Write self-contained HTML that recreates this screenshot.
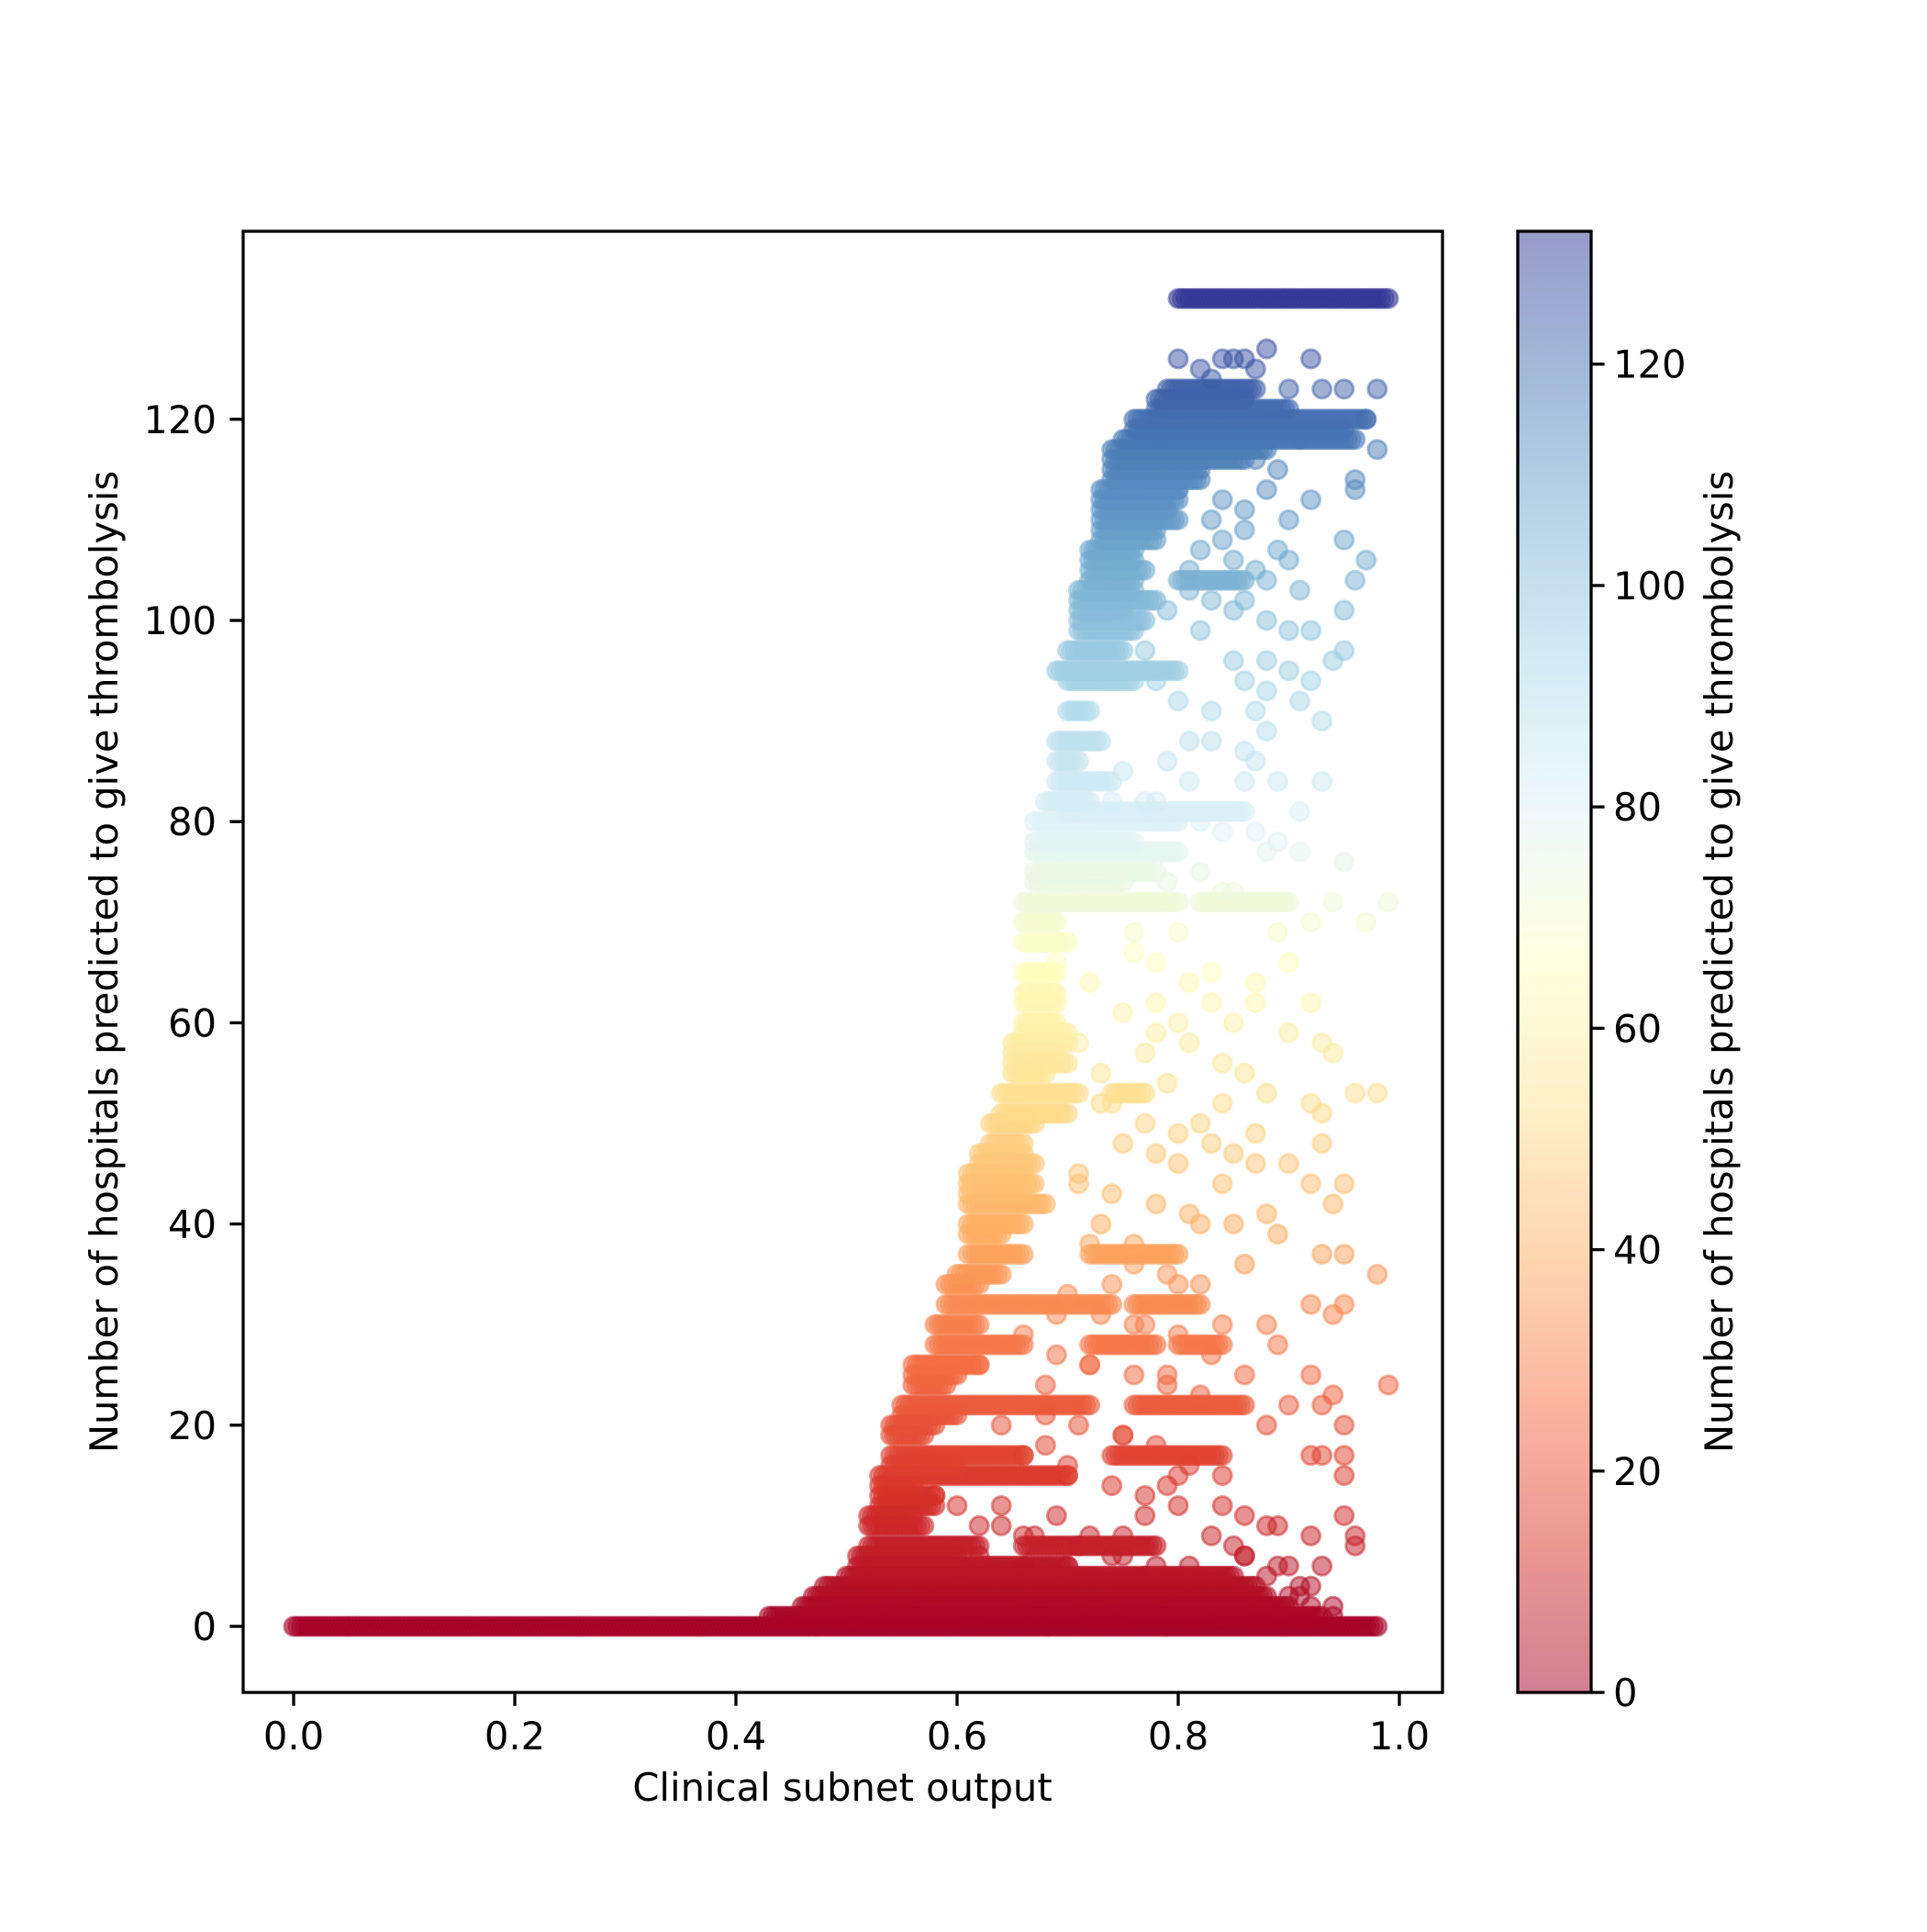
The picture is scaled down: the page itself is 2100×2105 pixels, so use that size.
<!DOCTYPE html>
<html><head><meta charset="utf-8"><style>
html,body{margin:0;padding:0;background:#fff;}
svg text{font-family:"DejaVu Sans","Liberation Sans",sans-serif;fill:#000;}
</style></head><body>
<svg id="chart" width="2100" height="2100" viewBox="0 0 2100 2100" xmlns="http://www.w3.org/2000/svg">
<rect width="2100" height="2100" fill="#fff"/>
<defs><linearGradient id="cbgrad" x1="0" y1="1" x2="0" y2="0"></linearGradient>
<clipPath id="plotclip"><rect x="265" y="252" width="1307" height="1592"/></clipPath></defs>
<g id="points" clip-path="url(#plotclip)"></g>
<rect x="265" y="252" width="1307" height="1592" fill="none" stroke="#000" stroke-width="3.3"/>
<g id="xticks"></g>
<g id="yticks"></g>
<text x="918" y="1962" font-size="41.7" text-anchor="middle">Clinical subnet output</text>
<text transform="translate(128,1048) rotate(-90)" font-size="41.7" text-anchor="middle">Number of hospitals predicted to give thrombolysis</text>
<rect x="1654" y="252" width="80" height="1592" fill="url(#cbgrad)"/>
<rect x="1654" y="252" width="80" height="1592" fill="none" stroke="#000" stroke-width="3.3"/>
<g id="cbticks"></g>
<text transform="translate(1888,1048) rotate(-90)" font-size="41.7" text-anchor="middle">Number of hospitals predicted to give thrombolysis</text>
</svg>
<script>
const xTicks=[0,0.2,0.4,0.6,0.8,1.0];
const xTickLabels=["0.0","0.2","0.4","0.6","0.8","1.0"];
const yTicks=[0,20,40,60,80,100,120];
const cbTicks=[0,20,40,60,80,100,120];
// dense bands: [y, xStart, xEnd]
const bandY=[132,0,1,2,3,4,5,6,8,8,12,14,16,17,17,20,22,22,25,28,28,28,32,32,35,37,37,40,42,44,46,48,51,53,53,56,58,60,62,65,68,72,72,75,77,80,81,84,88,91,94,95,99,100,102,104,104,106,108,110,112,114,116,118,120,123,
7,10,11,13,15,19,21,24,26,30,34,39,43,45,47,50,55,57,59,63,70,74,78,82,86,97,101,103,105,107,109,111,113,115,117,119,121,122];
const bandX0=[0.80,0,0.43,0.46,0.47,0.48,0.50,0.51,0.52,0.66,0.53,0.53,0.54,0.54,0.74,0.54,0.55,0.76,0.56,0.58,0.72,0.80,0.59,0.76,0.60,0.61,0.72,0.61,0.61,0.61,0.62,0.63,0.64,0.64,0.74,0.65,0.65,0.66,0.66,0.66,0.66,0.66,0.82,0.67,0.67,0.67,0.70,0.69,0.69,0.70,0.70,0.69,0.71,0.71,0.71,0.72,0.80,0.72,0.73,0.73,0.73,0.74,0.74,0.75,0.76,0.79,
0.51,0.52,0.52,0.53,0.53,0.54,0.55,0.56,0.56,0.58,0.59,0.61,0.61,0.61,0.62,0.63,0.65,0.65,0.66,0.66,0.66,0.67,0.67,0.68,0.69,0.70,0.71,0.71,0.72,0.72,0.73,0.73,0.73,0.74,0.74,0.76,0.78,0.78];
const bandX1=[0.99,0.98,0.93,0.90,0.88,0.87,0.85,0.70,0.62,0.78,0.58,0.56,0.60,0.66,0.84,0.58,0.72,0.86,0.60,0.66,0.78,0.84,0.74,0.82,0.64,0.66,0.80,0.66,0.68,0.67,0.67,0.66,0.70,0.71,0.77,0.70,0.70,0.69,0.69,0.69,0.70,0.80,0.90,0.78,0.80,0.80,0.86,0.74,0.73,0.72,0.76,0.80,0.76,0.77,0.78,0.76,0.86,0.76,0.78,0.80,0.80,0.82,0.86,0.96,0.97,0.87,
0.60,0.57,0.56,0.58,0.70,0.57,0.60,0.59,0.62,0.62,0.62,0.64,0.66,0.66,0.66,0.67,0.68,0.69,0.70,0.69,0.69,0.75,0.76,0.72,0.71,0.75,0.75,0.76,0.77,0.76,0.78,0.79,0.80,0.82,0.88,0.95,0.90,0.86];
// scattered points
const ptX=[0.80,0.82,0.84,0.85,0.86,0.88,0.87,0.92,0.83,0.90,0.93,0.95,0.98,0.97,0.98,0.96,0.96,0.92,0.95,0.96,0.97,0.95,0.92,0.94,0.95,0.92,0.86,0.88,0.90,0.84,0.86,0.82,0.85,0.88,0.90,0.83,0.87,0.88,0.80,0.78,0.81,0.89,0.93,0.86,0.91,0.87,0.84,0.95,0.94,0.99,0.97,0.92,0.89,0.80,0.76,0.84,0.88,0.81,0.83,0.87,0.92,0.78,0.80,0.85,0.90,0.93,0.94,0.96,0.98,0.92,0.88,0.84,0.93,0.87,0.82,0.78,0.80,0.93,0.90,0.87,0.84,0.92,0.95,0.94,0.88,0.85,0.82,0.89,0.76,0.93,0.95,0.98,0.86,0.80,0.74,0.92,0.95,0.94,0.88,0.84,0.76,0.89,0.83,0.92,0.86,0.79,0.72,0.99,0.94,0.90,0.93,0.88,0.95,0.93,0.95,0.92,0.84,0.80,0.70,0.68,0.75,0.95,0.84,0.86,0.89,0.95,0.96,0.96,0.92,0.77,0.69,0.64,0.62,0.83,0.85,0.90,0.92,0.94,0.91,0.72,0.75,0.66,0.79,0.88,0.86,0.60,0.58,0.64,0.68,0.62,0.66,0.69,0.73,0.71,0.75,0.73,0.77,0.71,0.74,0.79,0.69,0.72,0.75,0.74,0.78,0.77,0.79,0.81,0.83,0.80,0.82,
0.85,0.87,0.89,0.91,0.84,0.86,0.88,0.90,0.82,0.85,0.87,0.89,0.91,0.81,0.83,0.85,0.88,0.90,0.86,0.88,0.91,0.93,0.83,0.86,0.79,0.81,0.77,0.82,0.87,0.89,0.91,0.79,0.82,0.85,0.76,0.78,0.83,0.87,0.90,0.75,0.78,0.81,0.84,0.86,0.73,0.77,0.80,0.83,0.85,0.71,0.74,0.78,0.81,0.72,0.76,0.79,0.82,0.70,0.73,0.77,0.80,0.69,0.72,0.76,0.79,0.82,0.68,0.71,0.75,0.78,0.81,0.66,0.70,0.74,0.77,0.80,0.64,0.67,0.71,0.75,0.78,0.62,0.66,0.70,0.74,0.77,0.81,0.88,0.91,0.93,0.90,0.92,0.94,0.86,0.89];
const ptY=[126,125,126,126,126,127,125,126,124,123,123,123,123,120,117,114,113,112,108,104,106,101,99,96,97,94,102,104,106,108,109,99,96,96,95,91,91,89,92,94,88,84,84,84,81,86,79,76,72,72,70,70,69,69,69,73,77,64,62,62,62,62,60,60,59,58,57,53,53,52,53,52,51,49,50,47,46,48,46,46,44,44,44,42,41,40,40,39,38,37,37,35,36,34,34,32,32,31,30,30,30,28,27,25,25,25,26,24,23,22,22,20,20,17,17,17,15,15,15,18,19,15,12,11,10,11,9,8,9,11,11,12,10,9,8,6,4,1,3,9,9,9,14,10,7,12,13,20,24,26,29,31,40,44,48,55,57,58,52,54,66,64,85,82,82,97,101,105,110,113,117,
118,116,115,118,112,111,113,110,107,106,105,107,103,103,102,101,100,99,94,93,92,90,88,87,86,84,82,80,79,78,77,74,75,73,67,66,65,64,66,61,59,58,56,55,52,50,49,48,47,45,43,42,41,38,36,35,34,33,31,30,29,27,26,25,24,23,21,20,19,18,16,17,16,14,13,12,10,9,8,7,6,7,6,6,7,5,6,5,4,6,3,2,2,7,6];

const X0=320, XS=1205, Y0=1772, YS=10.96, CB_TOP=252, CB_BOT=1844, VMAX=132;
const sx=v=>X0+v*XS, sy=v=>Y0-v*YS;
const cmap=["#a50026","#d73027","#f46d43","#fdae61","#fee090","#ffffbf","#e0f3f8","#abd9e9","#74add1","#4575b4","#313695"];
function hex(h){return [1,3,5].map(i=>parseInt(h.substr(i,2),16));}
function color(v){let t=Math.max(0,Math.min(1,v/VMAX))*(cmap.length-1);let i=Math.min(Math.floor(t),cmap.length-2),f=t-i;let a=hex(cmap[i]),b=hex(cmap[i+1]);return `rgb(${a.map((c,k)=>Math.round(c+(b[k]-c)*f)).join(",")})`;}
const NS="http://www.w3.org/2000/svg";
const G=document.getElementById("points");
function dot(x,y){const c=document.createElementNS(NS,"circle");


c.setAttribute("cx",sx(x).toFixed(1));c.setAttribute("cy",sy(y).toFixed(1));c.setAttribute("r","10");
const col=color(y);c.setAttribute("fill",col);c.setAttribute("fill-opacity","0.5");c.setAttribute("stroke",col);c.setAttribute("stroke-opacity","0.5");c.setAttribute("stroke-width","3");G.appendChild(c);}
const order=[];
bandY.forEach((y,i)=>order.push({t:"b",i,y}));
ptY.forEach((y,i)=>order.push({t:"p",i,y}));
order.sort((a,b)=>a.y-b.y);
order.forEach(o=>{if(o.t==="b"){const x0=bandX0[o.i],x1=bandX1[o.i];const n=Math.max(1,Math.round((x1-x0)*XS/4));for(let k=0;k<=n;k++)dot(x0+(x1-x0)*k/n,o.y);}else dot(ptX[o.i],ptY[o.i]);});
const xt=document.getElementById("xticks");
xTicks.forEach((v,i)=>{const x=sx(v);
const l=document.createElementNS(NS,"line");
l.setAttribute("x1",x);l.setAttribute("x2",x);l.setAttribute("y1",1844);l.setAttribute("y2",1858.6);l.setAttribute("stroke","#000");l.setAttribute("stroke-width","3.3");xt.appendChild(l);
const t=document.createElementNS(NS,"text");
t.setAttribute("x",x);t.setAttribute("y",1906);t.setAttribute("font-size","41.7");t.setAttribute("text-anchor","middle");t.textContent=xTickLabels[i];xt.appendChild(t);});
const yt=document.getElementById("yticks");
yTicks.forEach(v=>{const y=sy(v);
const l=document.createElementNS(NS,"line");
l.setAttribute("x1",250.4);l.setAttribute("x2",265);l.setAttribute("y1",y);l.setAttribute("y2",y);l.setAttribute("stroke","#000");l.setAttribute("stroke-width","3.3");yt.appendChild(l);
const t=document.createElementNS(NS,"text");
t.setAttribute("x",236);t.setAttribute("y",y+15);t.setAttribute("font-size","41.7");t.setAttribute("text-anchor","end");t.textContent=String(v);yt.appendChild(t);});
const grad=document.getElementById("cbgrad");
for(let k=0;k<=20;k++){const s=document.createElementNS(NS,"stop");s.setAttribute("offset",(k/20));s.setAttribute("stop-color",color(VMAX*k/20));s.setAttribute("stop-opacity","0.5");grad.appendChild(s);}
const cb=document.getElementById("cbticks");
cbTicks.forEach(v=>{const y=CB_BOT-(v/VMAX)*(CB_BOT-CB_TOP);
const l=document.createElementNS(NS,"line");
l.setAttribute("x1",1734);l.setAttribute("x2",1748.6);l.setAttribute("y1",y);l.setAttribute("y2",y);l.setAttribute("stroke","#000");l.setAttribute("stroke-width","3.3");cb.appendChild(l);
const t=document.createElementNS(NS,"text");
t.setAttribute("x",1758);t.setAttribute("y",y+15);t.setAttribute("font-size","41.7");t.textContent=String(v);cb.appendChild(t);});
</script>
</body></html>
